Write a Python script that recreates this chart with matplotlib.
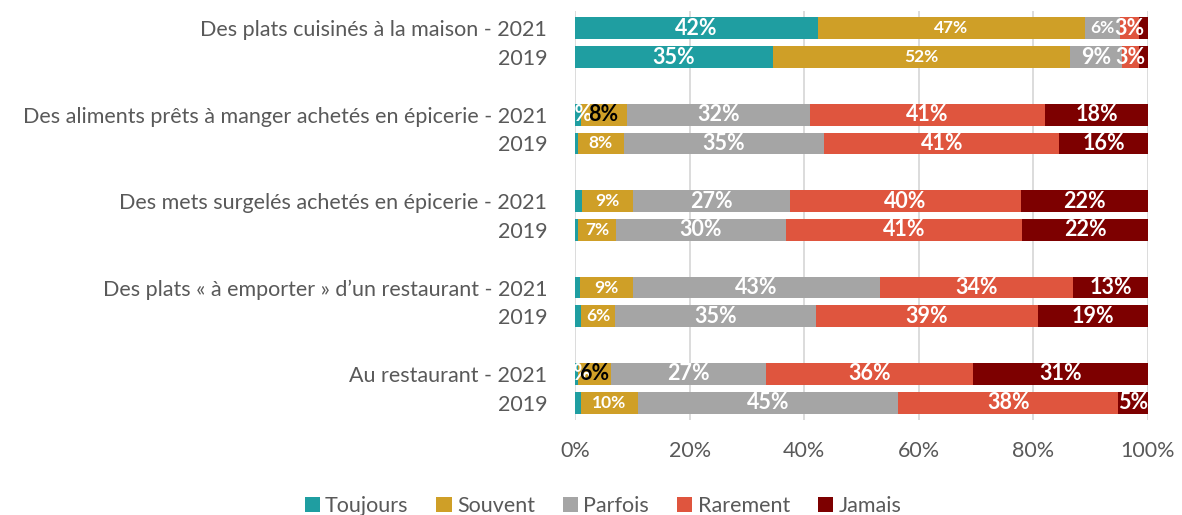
import matplotlib
matplotlib.use("Agg")
import matplotlib.pyplot as plt
from matplotlib.patches import Patch
import numpy as np

plt.rcParams['font.family'] = ['Lato', 'DejaVu Sans']

row_labels = [
    "Des plats cuisinés à la maison - 2021", "2019",
    "Des aliments prêts à manger achetés en épicerie - 2021", "2019",
    "Des mets surgelés achetés en épicerie - 2021", "2019",
    "Des plats « à emporter » d’un restaurant - 2021", "2019",
    "Au restaurant - 2021", "2019",
]
series_names = ["Toujours", "Souvent", "Parfois", "Rarement", "Jamais"]
toujours = [42.4, 34.6, 1.0, 0.5, 1.2, 0.6, 0.8, 1.0, 0.6, 1.0]
souvent = [46.6, 51.8, 8.0, 8.0, 9.0, 6.6, 9.3, 6.0, 5.6, 10.0]
parfois = [6.2, 9.1, 32.0, 35.0, 27.3, 29.6, 43.1, 35.1, 27.2, 45.4]
rarement = [3.2, 3.0, 41.0, 41.0, 40.4, 41.2, 33.7, 38.7, 36.0, 38.4]
jamais = [1.6, 1.5, 18.0, 15.5, 22.1, 22.0, 13.1, 19.2, 30.6, 5.2]
xticks = [0, 20, 40, 60, 80, 100]

colors = ["#1F9EA1", "#CF9F27", "#A5A5A5", "#DF553E", "#7D0000"]
series = [toujours, souvent, parfois, rarement, jamais]

fig = plt.figure(figsize=(11.82, 5.15), dpi=100)
ax = fig.add_axes([575/1182, 1-420/515, (1148-575)/1182, (420-11)/515])

# slot positions: pairs with a gap between groups
ypos = []
for g in range(5):
    ypos += [g*3, g*3 + 1]
ypos = np.array(ypos)

left = np.zeros(len(row_labels))
black_gold = {2, 8}
for si, (vals, c) in enumerate(zip(series, colors)):
    vals = np.array(vals)
    ax.barh(ypos, vals, left=left, height=0.76, color=c, zorder=3)
    for i, v in enumerate(vals):
        cx = left[i] + v/2
        txt = f"{v:.0f}%"
        show = v >= 2
        size = 15.5
        col = "white"
        if si == 0 and i in (2, 8):
            show = True
        if si == 1:
            if i in black_gold:
                col = "black"
            else:
                size = 12.5
        if si == 2 and i == 0:
            size = 12.5
        if show:
            ax.text(cx, ypos[i], txt, ha="center", va="center", color=col,
                    fontsize=size, fontweight="bold", zorder=5, clip_on=True)
    left += vals

ax.set_xlim(0, 100)
ax.set_ylim(13.6, -0.6)
ax.set_xticks(xticks)
ax.set_xticklabels([f"{t}%" for t in xticks])
ax.set_yticks(ypos)
ax.set_yticklabels(row_labels)
ax.tick_params(axis="both", length=0, labelsize=15.5, colors="#595959")
ax.tick_params(axis="x", pad=15)
ax.tick_params(axis="y", pad=20)
ax.grid(axis="x", color="#D9D9D9", linewidth=1.3, zorder=0)
for s in ax.spines.values():
    s.set_visible(False)

handles = [Patch(facecolor=c, edgecolor="none") for c in colors]
fig.legend(handles, series_names, loc="lower center", bbox_to_anchor=(0.51, -0.04),
           ncol=5, frameon=False, fontsize=15.5, labelcolor="#595959",
           handlelength=0.7, handleheight=0.7, handletextpad=0.25, columnspacing=1.3)

fig.savefig("out.png", dpi=100, facecolor="white")
